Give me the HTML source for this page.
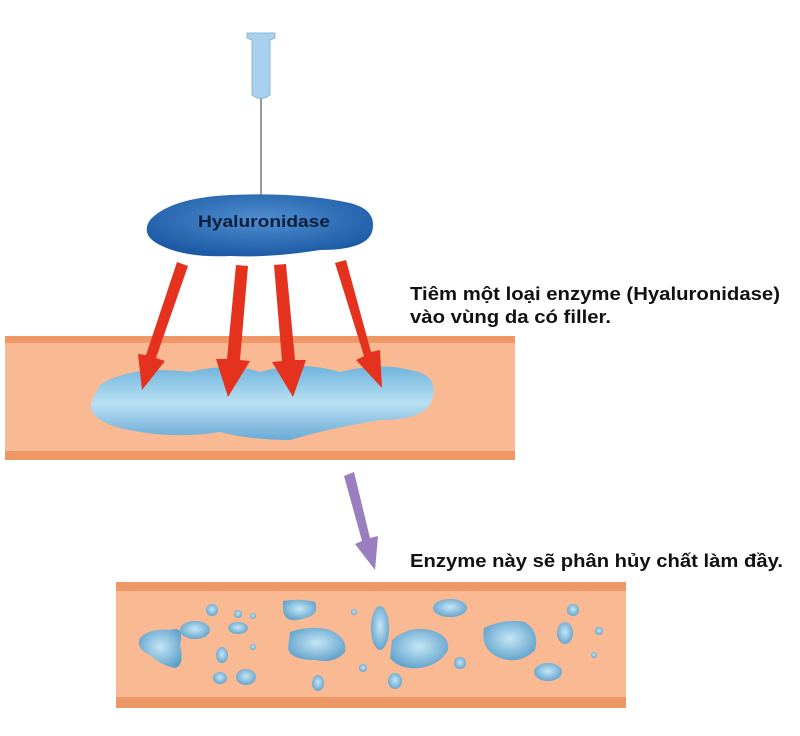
<!DOCTYPE html>
<html><head><meta charset="utf-8"><style>
body{margin:0;background:#fff;width:800px;height:736px;overflow:hidden}
svg{display:block}
text{font-family:"Liberation Sans",Arial,sans-serif;font-weight:bold}
</style></head><body>
<svg width="800" height="736" viewBox="0 0 800 736" xmlns="http://www.w3.org/2000/svg">
<defs>
<radialGradient id="bl" cx="50%" cy="45%" r="60%"><stop offset="0" stop-color="#c4e6f6"/><stop offset="1" stop-color="#5d9fc9"/></radialGradient>
<radialGradient id="hy" cx="50%" cy="40%" r="60%"><stop offset="0" stop-color="#4f8fd0"/><stop offset="1" stop-color="#1d5aa6"/></radialGradient>
<linearGradient id="fl" x1="0" y1="0" x2="0" y2="1"><stop offset="0" stop-color="#6fb3dc"/><stop offset="0.5" stop-color="#b9e0f3"/><stop offset="1" stop-color="#6aaad6"/></linearGradient>
</defs>
<rect x="5" y="336" width="510" height="124" fill="#f8b993"/>
<rect x="5" y="336" width="510" height="7" fill="#ef9867"/>
<rect x="5" y="451" width="510" height="9" fill="#ef9867"/>
<path d="M100 385 Q130 365 190 372 Q230 362 260 372 Q300 360 340 372 Q380 362 410 370 Q440 375 432 400 Q425 420 380 420 Q330 428 290 440 Q250 440 220 432 Q170 440 120 428 Q85 418 92 400 Z" fill="url(#fl)"/>
<line x1="261" y1="95" x2="261" y2="195" stroke="#999" stroke-width="2"/>
<path d="M247 33 H275 V38 L270 40 V95 Q261 102 252 95 V40 L247 38 Z" fill="#a9d0ec" stroke="#8bb8da"/>
<path d="M150 220 Q170 198 230 195 Q300 192 350 203 Q378 210 372 232 Q366 250 320 250 Q270 258 230 256 Q185 258 160 245 Q140 235 150 220 Z" fill="url(#hy)"/>
<text x="198" y="227" font-size="17" fill="#0d1e3a" textLength="132" lengthAdjust="spacingAndGlyphs">Hyaluronidase</text>
<g fill="#e5321f">
<polygon points="177,262 188,266 156,358 165,361 142,390 138,354 146,355"/>
<polygon points="236,265 248,266 240,360 250,361 228,397 216,359 227,359"/>
<polygon points="274,265 286,264 295,360 306,360 293,397 272,362 282,361"/>
<polygon points="335,263 346,260 371,352 380,350 382,388 356,360 364,356"/>
</g>
<polygon points="344,476 354,472 370,538 378,536 375,570 355,544 362,541" fill="#9a7fc0"/>
<text x="410" y="300" font-size="18" fill="#111" textLength="370" lengthAdjust="spacingAndGlyphs">Tiêm một loại enzyme (Hyaluronidase)</text>
<text x="410" y="323" font-size="18" fill="#111" textLength="201" lengthAdjust="spacingAndGlyphs">vào vùng da có filler.</text>
<text x="410" y="567" font-size="18" fill="#111" textLength="373" lengthAdjust="spacingAndGlyphs">Enzyme này sẽ phân hủy chất làm đầy.</text>
<rect x="116" y="582" width="510" height="126" fill="#f8b993"/>
<rect x="116" y="582" width="510" height="9" fill="#ef9867"/>
<rect x="116" y="697" width="510" height="11" fill="#ef9867"/>
<g fill="url(#bl)">
<path d="M140 638 Q150 628 170 630 Q185 625 180 645 Q185 665 175 668 Q160 665 150 655 Q135 648 140 638Z"/>
<path d="M290 632 Q310 625 330 630 Q348 638 345 652 Q335 664 315 660 Q290 660 288 648Z"/>
<path d="M392 640 Q410 625 430 630 Q450 635 448 650 Q440 665 420 668 Q400 670 390 658Z"/>
<path d="M484 628 Q505 618 525 622 Q540 632 535 650 Q520 665 500 658 Q480 650 484 628Z"/>
<path d="M283 601 Q300 598 315 602 Q320 615 305 618 Q285 625 283 610Z"/>
<ellipse cx="380" cy="628" rx="9" ry="22"/>
<ellipse cx="195" cy="630" rx="15" ry="9"/>
<ellipse cx="450" cy="608" rx="17" ry="9"/>
<ellipse cx="548" cy="672" rx="14" ry="9"/>
<ellipse cx="565" cy="633" rx="8" ry="11"/>
<ellipse cx="238" cy="628" rx="10" ry="6"/>
<ellipse cx="222" cy="655" rx="6" ry="8"/>
<ellipse cx="246" cy="677" rx="10" ry="8"/>
<ellipse cx="220" cy="678" rx="7" ry="6"/>
<ellipse cx="395" cy="681" rx="7" ry="8"/>
<ellipse cx="318" cy="683" rx="6" ry="8"/>
<circle cx="212" cy="610" r="6"/><circle cx="238" cy="614" r="4"/><circle cx="253" cy="616" r="3"/>
<circle cx="253" cy="647" r="3"/><circle cx="354" cy="612" r="3"/><circle cx="363" cy="668" r="4"/>
<circle cx="460" cy="663" r="6"/><circle cx="573" cy="610" r="6"/><circle cx="599" cy="631" r="4"/><circle cx="594" cy="655" r="3"/>
</g>
</svg>
</body></html>
